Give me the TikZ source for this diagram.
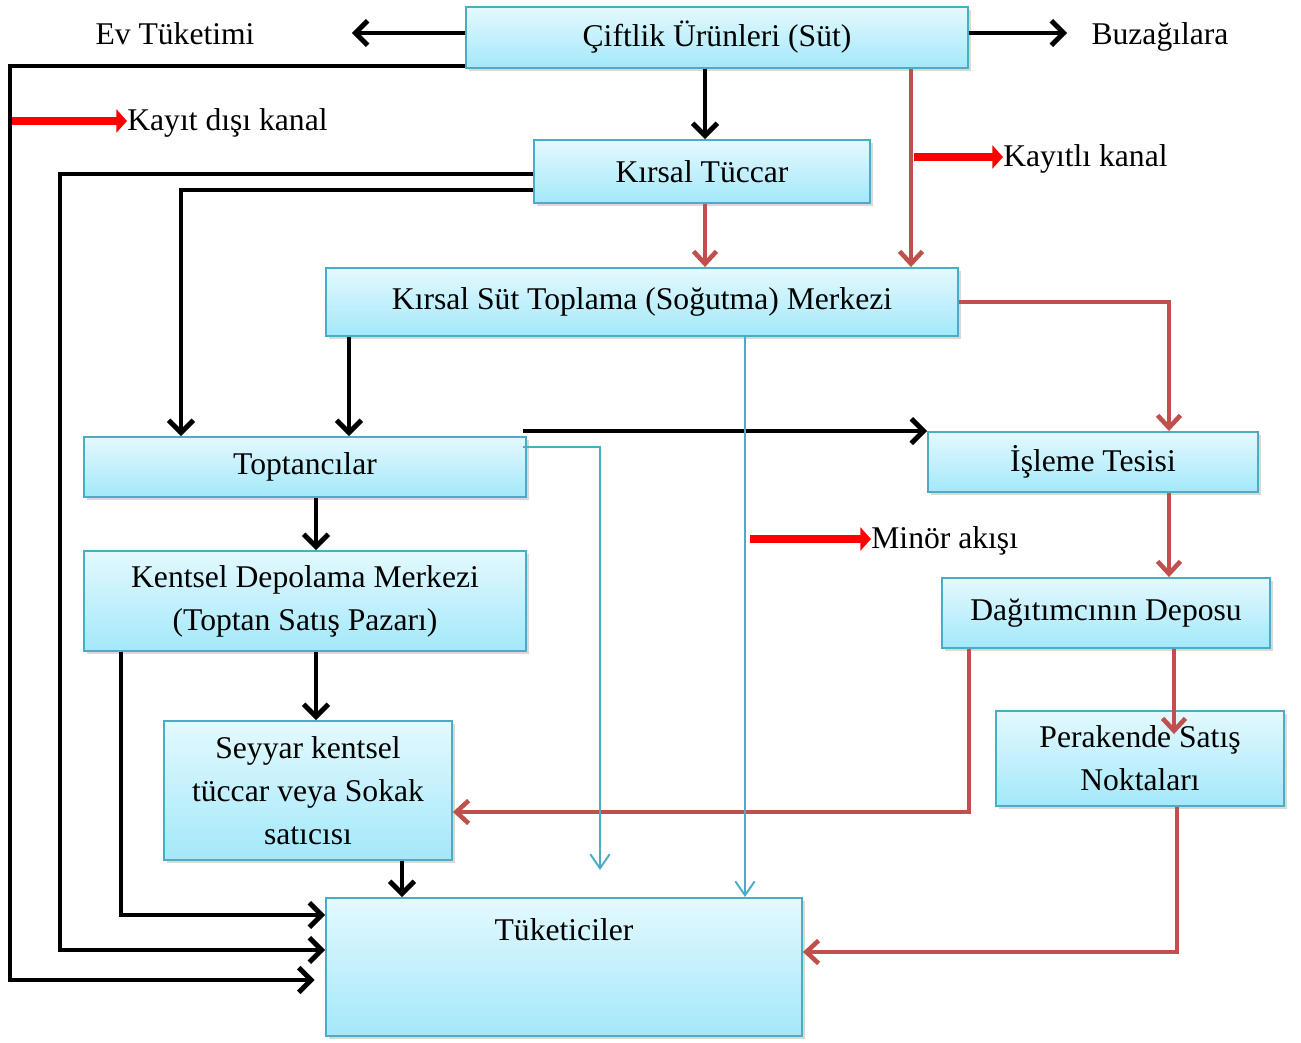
\documentclass[tikz,border=0pt]{standalone}
\usepackage{fontspec}
\setmainfont{Liberation Serif}
\usetikzlibrary{arrows.meta,shadows}

\definecolor{kenar}{HTML}{4BACC6}
\definecolor{kutuust}{HTML}{E4F9FE}
\definecolor{kutualt}{HTML}{A3E8FA}
\definecolor{kirmizi}{HTML}{C0504D}

\tikzset{
  kutu/.style={draw=kenar, line width=1.1pt, top color=kutuust, bottom color=kutualt,
    drop shadow={shadow xshift=1.5pt, shadow yshift=-1.5pt, opacity=0.3},
    align=center, inner sep=0pt, font=\fontsize{18}{24.5}\selectfont},
  yazi/.style={inner sep=0pt, font=\fontsize{18}{24.5}\selectfont},
  siyah/.style={line width=2.8pt, -{Straight Barb[length=7pt,width=14pt]}},
  kizil/.style={draw=kirmizi, line width=2.6pt, -{Straight Barb[length=7pt,width=13pt]}},
  mavi/.style={draw=kenar, line width=1.1pt, -{Straight Barb[length=8pt,width=11pt]}},
  gosterge/.style={draw=red, line width=4.5pt, -{Triangle[length=6pt,width=13pt]}},
}

\begin{document}
\begin{tikzpicture}[x=0.02cm, y=-0.02cm]
  \useasboundingbox (0,0) rectangle (1301,1043);

  % Boxes
  \node[kutu, minimum width=10.04cm, minimum height=1.22cm] (cift) at (717,37.5) {Çiftlik Ürünleri (Süt)};
  \node[kutu, minimum width=6.72cm, minimum height=1.26cm] (tuccar) at (702,171.5) {Kırsal Tüccar};
  \node[kutu, minimum width=12.64cm, minimum height=1.36cm] (toplama) at (642,302) {Kırsal Süt Toplama (Soğutma) Merkezi};
  \node[kutu, minimum width=8.84cm, minimum height=1.2cm] (toptan) at (305,467) {Toptancılar};
  \node[kutu, minimum width=6.6cm, minimum height=1.2cm] (isleme) at (1093,462) {İşleme Tesisi};
  \node[kutu, minimum width=8.84cm, minimum height=2.0cm] (kentsel) at (305,601) {Kentsel Depolama Merkezi\\(Toptan Satış Pazarı)};
  \node[kutu, minimum width=6.56cm, minimum height=1.4cm] (dagitim) at (1106,613) {Dağıtımcının Deposu};
  \node[kutu, minimum width=5.76cm, minimum height=2.78cm] (seyyar) at (308,790.5) {Seyyar kentsel\\tüccar veya Sokak\\satıcısı};
  \node[kutu, minimum width=5.76cm, minimum height=1.9cm] (perakende) at (1140,758.5) {Perakende Satış\\Noktaları};
  \node[kutu, minimum width=9.52cm, minimum height=2.76cm] (tuketici) at (564,967) {};
  \node[yazi] (tuketiciad) at (564,930) {Tüketiciler};

  % Outer texts and legend
  \node[yazi] (ev) at (175,34) {Ev Tüketimi};
  \node[yazi] (buz) at (1160,37) {Buzağılara};
  \node[yazi, anchor=west] (kdk) at (127,123) {Kayıt dışı kanal};
  \node[yazi, anchor=west] (kk) at (1003,159) {Kayıtlı kanal};
  \node[yazi, anchor=west] (minor) at (871,541) {Minör akışı};
  \coordinate (kdk0) at (12,121);
  \coordinate (kk0) at (914,157);
  \coordinate (minor0) at (750,539);
  \coordinate (mucu) at (600,870);

  \draw[gosterge] (kdk0) -- (kdk.west |- kdk0);
  \draw[gosterge] (kk0) -- (kk.west |- kk0);
  \draw[gosterge] (minor0) -- (minor.west |- minor0);

  % Black flows
  \draw[siyah, shorten >=1.94cm] (cift.west |- 0,33) -- (ev.east |- 0,33);
  \draw[siyah, shorten >=0.48cm] (cift.east |- 0,33) -- (buz.west |- 0,33);
  \draw[siyah, shorten >=6pt] (cift.west |- 0,66) -| (10,980) -- (tuketici.west |- 0,980);
  \draw[siyah] (cift.south -| 705,0) -- (tuccar.north -| 705,0);
  \draw[siyah] (tuccar.west |- 0,174) -| (60,950) -- (tuketici.west |- 0,950);
  \draw[siyah] (tuccar.west |- 0,190) -| (toptan.north -| 181,0);
  \draw[siyah] (toplama.south -| 349,0) -- (toptan.north -| 349,0);
  \draw[siyah] ([xshift=-2pt]toptan.north east |- isleme.north west) -- (isleme.north west);
  \draw[siyah] (toptan.south -| 316,0) -- (kentsel.north -| 316,0);
  \draw[siyah] (kentsel.south -| 316,0) -- (seyyar.north -| 316,0);
  \draw[siyah] (kentsel.south -| 121,0) |- (tuketici.west |- 0,915);
  \draw[siyah] (seyyar.south -| 402,0) -- (tuketici.north -| 402,0);

  % Red flows
  \draw[kizil] (cift.south -| 911,0) -- (toplama.north -| 911,0);
  \draw[kizil] (tuccar.south -| 705,0) -- (toplama.north -| 705,0);
  \draw[kizil] (toplama.east) -| (isleme.north -| 1169,0);
  \draw[kizil] (isleme.south -| 1169,0) -- (dagitim.north -| 1169,0);
  \draw[kizil] (dagitim.south -| 969,0) |- (seyyar.east |- 0,812);
  \draw[kizil, shorten >=-0.48cm] (dagitim.south -| 1174,0) -- (perakende.north -| 1174,0);
  \draw[kizil] (perakende.south -| 1177,0) |- (tuketici.east |- 0,952);

  % Minor flows
  \draw[mavi] (toplama.south -| 745,0) -- (tuketici.north -| 745,0);
  \draw[mavi] ([xshift=-2pt]toptan.east |- 0,447) -| (mucu);
\end{tikzpicture}
\end{document}
